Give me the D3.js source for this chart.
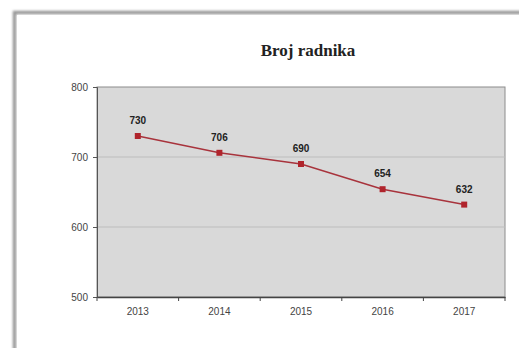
<!DOCTYPE html>
<html><head><meta charset="utf-8">
<script src="https://cdn.jsdelivr.net/npm/d3@7"></script>
<style>body{margin:0;background:#fff}svg{display:block}</style>
</head><body>
<svg id="c" width="519" height="348"></svg>
<script>
const title = "Broj radnika";
const categories = ["2013","2014","2015","2016","2017"];
const values = [730, 706, 690, 654, 632];
const yTicks = [500, 600, 700, 800];

const svg = d3.select("#c");
const defs = svg.append("defs");
const f = defs.append("filter").attr("id","blur").attr("x","-5%").attr("y","-5%").attr("width","110%").attr("height","110%");
f.append("feGaussianBlur").attr("stdDeviation",1.2);

// outer frame
svg.append("rect").attr("x",14.5).attr("y",12.5).attr("width",560).attr("height",400)
  .attr("fill","none").attr("stroke","#9a9a9a").attr("stroke-width",3.5).attr("filter","url(#blur)");
svg.append("rect").attr("x",17).attr("y",15).attr("width",560).attr("height",400).attr("fill","#fff");

const m = {left:97, right:505, top:87, bottom:297};
const x = d3.scaleBand().domain(categories).range([m.left, m.right]);
const y = d3.scaleLinear().domain([500, 800]).range([m.bottom, m.top]);

svg.append("rect").attr("x",m.left).attr("y",m.top).attr("width",m.right-m.left).attr("height",m.bottom-m.top)
  .attr("fill","#d9d9d9").attr("stroke","#8c8c8c").attr("stroke-width",1);

// gridlines
svg.append("g").selectAll("line").data(yTicks.filter(t=>t>500 && t<800)).join("line")
  .attr("x1",m.left).attr("x2",m.right).attr("y1",d=>y(d)).attr("y2",d=>y(d))
  .attr("stroke","#bdbdbd").attr("stroke-width",1);

// y axis
const ya = svg.append("g").attr("transform",`translate(${m.left},0)`)
  .call(d3.axisLeft(y).tickValues(yTicks).tickSize(4).tickPadding(5));
ya.select(".domain").attr("stroke","#555");
ya.selectAll(".tick line").attr("stroke","#555");
ya.selectAll("text").attr("font-family","Liberation Sans, Arial, sans-serif").attr("font-size",10).attr("fill","#444");

// x axis
const xa = svg.append("g").attr("transform",`translate(0,${m.bottom})`)
  .call(d3.axisBottom(x).tickSize(0).tickPadding(11));
xa.select(".domain").attr("stroke","#444").attr("stroke-width",1.5);
xa.selectAll("text").attr("font-family","Liberation Sans, Arial, sans-serif").attr("font-size",10).attr("fill","#444");
const bounds = categories.map(c=>x(c)).concat([m.right]);
svg.append("g").selectAll("line").data(bounds).join("line")
  .attr("x1",d=>d).attr("x2",d=>d).attr("y1",m.bottom).attr("y2",m.bottom+4)
  .attr("stroke","#444").attr("stroke-width",1);

const cx = c => x(c) + x.bandwidth()/2;
const data = categories.map((c,i)=>({c, v:values[i]}));

svg.append("path").datum(data)
  .attr("d", d3.line().x(d=>cx(d.c)).y(d=>y(d.v)))
  .attr("fill","none").attr("stroke","#a8333c").attr("stroke-width",1.5);

svg.append("g").selectAll("rect").data(data).join("rect")
  .attr("x",d=>cx(d.c)-3).attr("y",d=>y(d.v)-3).attr("width",6).attr("height",6)
  .attr("fill","#b0242c");

svg.append("g").selectAll("text").data(data).join("text")
  .attr("x",d=>cx(d.c)).attr("y",d=>y(d.v)-12)
  .attr("text-anchor","middle").attr("font-family","Liberation Sans, Arial, sans-serif")
  .attr("font-weight","bold").attr("font-size",10).attr("fill","#222")
  .text(d=>d.v);

svg.append("text").attr("x",308).attr("y",56).attr("text-anchor","middle")
  .attr("font-family","Liberation Serif, Times New Roman, serif").attr("font-weight","bold")
  .attr("font-size",17).attr("fill","#222").text(title);
</script>
</body></html>
